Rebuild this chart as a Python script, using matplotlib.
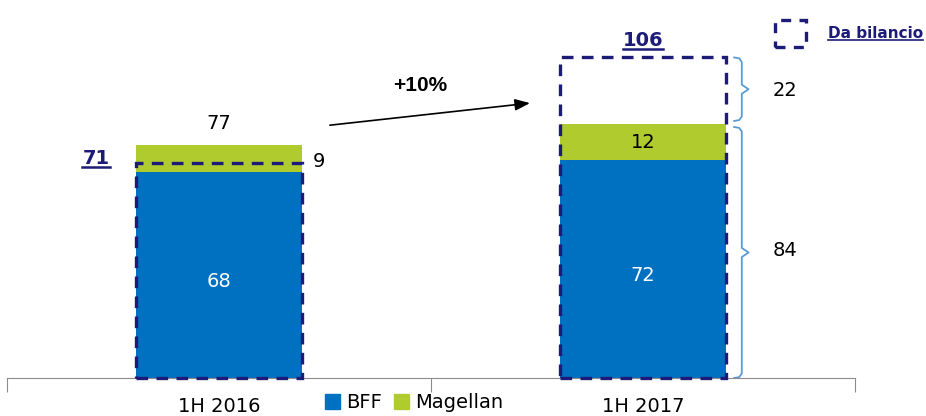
import matplotlib.pyplot as plt
from matplotlib.patches import Rectangle, Patch
from matplotlib.lines import Line2D

# Dati (milioni di euro)
periodi = ["1H 2016", "1H 2017"]
bff = [68, 72]
magellan = [0, 12]
bff_magellan = [77, 0]       # 1H 2016: BFF + Magellan pro-forma
da_bilancio = [71, 106]
aggiustamento = 22
crescita = "+10%"

blu = "#0070C0"
verde = "#B0CB2D"
navy = "#1C1C78"
azzurro = "#5B9BD5"

fig = plt.figure(figsize=(9.26, 4.16), dpi=100)
ax = fig.add_axes([7 / 926, 1 - 378 / 416, 848 / 926, 378 / 416])
ax.set_xlim(-0.5, 1.5)
ax.set_ylim(0, 125)

x = [0, 1]
w = 0.39
magellan_16 = bff_magellan[0] - bff[0]
mag = [magellan_16, magellan[1]]
ax.bar(x, bff, width=w, color=blu, zorder=2)
ax.bar(x, mag, width=w, bottom=bff, color=verde, zorder=2)

# riquadri tratteggiati "Da bilancio"
for xi, v in zip(x, da_bilancio):
    ax.add_patch(Rectangle((xi - w / 2, 0), w, v, fill=False, edgecolor=navy,
                           lw=2.4, ls=(0, (3.5, 2.5)), zorder=3, clip_on=False))

# etichette
ax.text(0, bff[0] / 2 - 2, str(bff[0]), color="white", ha="center", va="center", fontsize=14)
ax.text(1, bff[1] / 2 - 2, str(bff[1]), color="white", ha="center", va="center", fontsize=14)
ax.text(1, bff[1] + magellan[1] / 2, str(magellan[1]), color="black", ha="center",
        va="center", fontsize=14)
ax.text(0, bff_magellan[0] + 4, str(bff_magellan[0]), ha="center", va="bottom", fontsize=14)
ax.text(0 + w / 2 + 0.025, bff[0] + magellan_16 / 2 - 1, str(magellan_16), ha="left",
        va="center", fontsize=14)


def sottolineato(xd, yd, testo, size=14):
    t = ax.text(xd, yd, testo, color=navy, ha="center", va="bottom", fontsize=size,
                fontweight="bold")
    fig.canvas.draw()
    bb = t.get_window_extent().transformed(ax.transData.inverted())
    ax.plot([bb.x0, bb.x1], [bb.y0 + 0.3, bb.y0 + 0.3], color=navy, lw=1.8, clip_on=False)


sottolineato(-0.29, 69.5, str(da_bilancio[0]))
sottolineato(1, 108.5, str(da_bilancio[1]))

# freccia di crescita
ax.annotate("", xy=(0.74, 91), xytext=(0.255, 83.5),
            arrowprops=dict(arrowstyle="-|>,head_length=0.9,head_width=0.35", color="black", lw=1.2))
ax.text(0.475, 93.5, crescita, ha="center", va="bottom", fontsize=15, fontweight="bold",
        family="Liberation Sans")


def graffa(x0, y0, y1):
    mid = (y0 + y1) / 2
    d = 1.5
    xs = [x0, x0 + 0.012, x0 + 0.018, x0 + 0.018, x0 + 0.034,
          x0 + 0.018, x0 + 0.018, x0 + 0.012, x0]
    ys = [y1, y1 - 0.3, y1 - d, mid + d, mid, mid - d, y0 + d, y0 + 0.3, y0]
    ax.plot(xs, ys, color=azzurro, lw=1.3, clip_on=False)


graffa(1.215, bff[1] + magellan[1] + 1, bff[1] + magellan[1] + aggiustamento)
graffa(1.215, 0, bff[1] + magellan[1] - 1)
ax.text(1.305, bff[1] + magellan[1] + aggiustamento / 2, str(aggiustamento),
        ha="left", va="center", fontsize=14)
ax.text(1.305, (bff[1] + magellan[1]) / 2, str(bff[1] + magellan[1]),
        ha="left", va="center", fontsize=14)

# asse
for s in ["top", "right", "left"]:
    ax.spines[s].set_visible(False)
ax.spines["bottom"].set_color("#8C8C8C")
ax.set_yticks([])
ax.set_xticks([-0.5, 0.5, 1.5])
ax.set_xticklabels([])
ax.tick_params(axis="x", which="major", length=10, color="#8C8C8C")
ax.set_xticks(x, minor=True)
ax.set_xticklabels(periodi, minor=True, fontsize=14)
ax.tick_params(axis="x", which="minor", length=0, pad=14)

# legenda
handles = [Patch(color=blu, label="BFF"), Patch(color=verde, label="Magellan")]
fig.legend(handles=handles, loc="center", bbox_to_anchor=(414 / 926, 1 - 403 / 416),
           ncol=2, frameon=False, fontsize=14, handlelength=0.8, handleheight=0.8,
           handletextpad=0.3, columnspacing=0.6, borderpad=0)

# legenda riquadro tratteggiato
fig.patches.append(Rectangle((775 / 926, 1 - 47 / 416), 31 / 926, 27 / 416, fill=False,
                             edgecolor=navy, lw=2.4, ls=(0, (3, 2.5)),
                             transform=fig.transFigure))
t = fig.text(828 / 926, 1 - 34 / 416, "Da bilancio", color=navy, fontsize=11,
             fontweight="bold", ha="left", va="center")
fig.canvas.draw()
bb = t.get_window_extent().transformed(fig.transFigure.inverted())
fig.lines.append(Line2D([bb.x0, bb.x1], [bb.y0 + 0.003, bb.y0 + 0.003], color=navy, lw=1.2,
                        transform=fig.transFigure))

fig.savefig("out.png", dpi=100)
